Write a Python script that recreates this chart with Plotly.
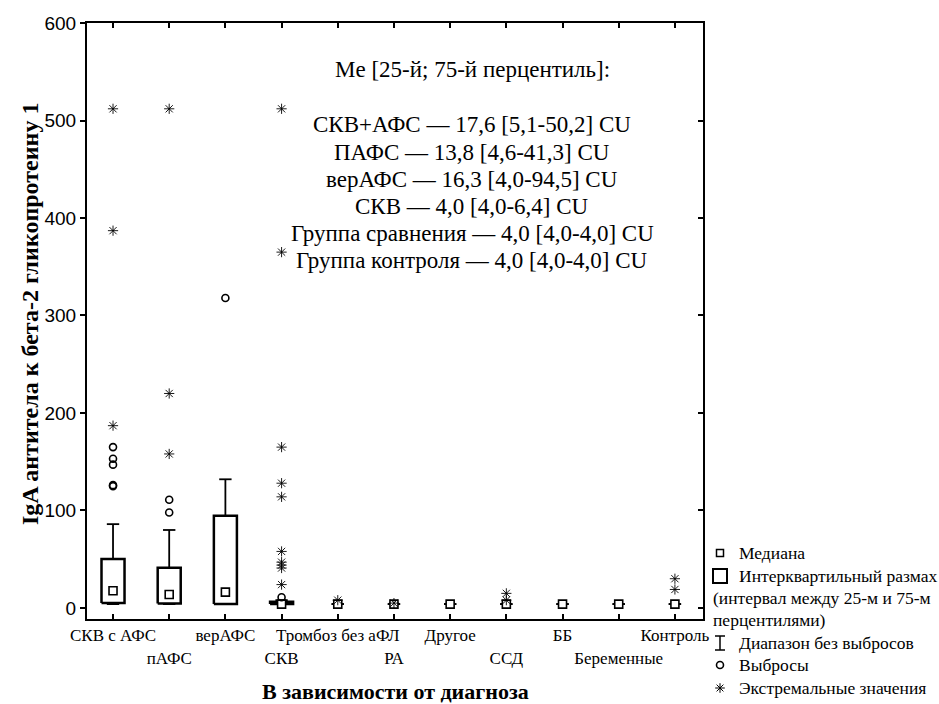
import plotly.graph_objects as go

# ---- data -------------------------------------------------------------
categories = ["СКВ с АФС", "пАФС", "верАФС", "СКВ", "Тромбоз без аФЛ", "РА",
              "Другое", "ССД", "ББ", "Беременные", "Контроль"]
medians = [17.6, 13.8, 16.3, 4.0, 4.0, 4.0, 4.0, 4.0, 4.0, 4.0, 4.0]
q1 = [5.1, 4.6, 4.0, 4.0, 4.0, 4.0, 4.0, 4.0, 4.0, 4.0, 4.0]
q3 = [50.2, 41.3, 94.5, 6.4, 4.0, 4.0, 4.0, 4.0, 4.0, 4.0, 4.0]
whisker_low = [4.0, 4.0, 4.0, 4.0, 4.0, 4.0, 4.0, 4.0, 4.0, 4.0, 4.0]
whisker_high = [86.0, 80.0, 132.0, 8.0, 4.0, 4.0, 4.0, 4.0, 4.0, 4.0, 4.0]
outliers = [[125, 126, 147, 153, 165], [98, 111], [318], [11],
            [], [], [], [], [], [], []]
extremes = [[187, 387, 512], [158, 220, 512], [],
            [24, 41, 44, 47, 58, 114, 128, 165, 365, 512],
            [8], [5], [], [8, 15], [], [], [19, 30]]

# summary lines: (label, category index); the comparison group is pooled
summary_groups = [("СКВ+АФС", 0), ("ПАФС", 1), ("верАФС", 2), ("СКВ", 3),
                  ("Группа сравнения", None), ("Группа контроля", 10)]
comparison_stats = [4.0, 4.0, 4.0]  # Me, Q1, Q3

y_ticks = [0, 100, 200, 300, 400, 500, 600]

# ---- geometry ---------------------------------------------------------
W, H = 939, 704
PX_L, PX_R, PX_T, PX_B = 87, 703, 23, 619
BOX_HALF = 0.205
CAP_HALF = 0.11

SERIF = "Liberation Serif, Times New Roman, serif"
SANS = "Liberation Sans, Arial, sans-serif"

fig = go.Figure()

# boxes (skipped where the interquartile range collapses)
bx, by = [], []
for i in range(len(categories)):
    if q3[i] > q1[i]:
        bx += [i - BOX_HALF, i + BOX_HALF, i + BOX_HALF, i - BOX_HALF, i - BOX_HALF, None]
        by += [q1[i], q1[i], q3[i], q3[i], q1[i], None]
fig.add_trace(go.Scatter(x=bx, y=by, mode="lines",
                         line=dict(color="black", width=2.5),
                         hoverinfo="skip", showlegend=False))

# whiskers with caps
wx, wy = [], []
for i in range(len(categories)):
    wx += [i, i, None, i - CAP_HALF, i + CAP_HALF, None,
           i, i, None, i - CAP_HALF, i + CAP_HALF, None]
    wy += [q3[i], whisker_high[i], None, whisker_high[i], whisker_high[i], None,
           q1[i], whisker_low[i], None, whisker_low[i], whisker_low[i], None]
fig.add_trace(go.Scatter(x=wx, y=wy, mode="lines",
                         line=dict(color="black", width=1.8),
                         hoverinfo="skip", showlegend=False))

# medians
fig.add_trace(go.Scatter(
    x=list(range(len(categories))), y=medians, mode="markers",
    marker=dict(symbol="square", size=8, color="white",
                line=dict(color="black", width=1.6)),
    showlegend=False))

# outliers
ox = [i for i, vals in enumerate(outliers) for _ in vals]
oy = [v for vals in outliers for v in vals]
fig.add_trace(go.Scatter(
    x=ox, y=oy, mode="markers",
    marker=dict(symbol="circle-open", size=7, color="black",
                line=dict(color="black", width=1.6)),
    showlegend=False))

# extreme values
ex = [i for i, vals in enumerate(extremes) for _ in vals]
ey = [v for vals in extremes for v in vals]
fig.add_trace(go.Scatter(
    x=ex, y=ey, mode="markers",
    marker=dict(symbol="asterisk-open", size=8.5, color="black",
                line=dict(color="black", width=0.9)),
    showlegend=False))

# right-hand axis carrying inward ticks
fig.add_trace(go.Scatter(x=[None], y=[None], yaxis="y2",
                         hoverinfo="skip", showlegend=False))

# ---- legend keys drawn on a full-figure pixel frame ----------------------
LX = 720
leg_rows = [553, 576, 598, 620, 643, 665, 688]
fig.add_trace(go.Scatter(x=[LX], y=[leg_rows[0]], xaxis="x3", yaxis="y3",
                         mode="markers",
                         marker=dict(symbol="square", size=7, color="white",
                                     line=dict(color="black", width=1.5)),
                         hoverinfo="skip", showlegend=False))
fig.add_trace(go.Scatter(x=[LX], y=[leg_rows[1]], xaxis="x3", yaxis="y3",
                         mode="markers",
                         marker=dict(symbol="square", size=14, color="white",
                                     line=dict(color="black", width=2)),
                         hoverinfo="skip", showlegend=False))
fig.add_trace(go.Scatter(x=[LX - 5, LX + 5, None, LX, LX, None, LX - 5, LX + 5],
                         y=[leg_rows[4] - 7, leg_rows[4] - 7, None,
                            leg_rows[4] - 7, leg_rows[4] + 7, None,
                            leg_rows[4] + 7, leg_rows[4] + 7],
                         xaxis="x3", yaxis="y3", mode="lines",
                         line=dict(color="black", width=1.5),
                         hoverinfo="skip", showlegend=False))
fig.add_trace(go.Scatter(x=[LX], y=[leg_rows[5]], xaxis="x3", yaxis="y3",
                         mode="markers",
                         marker=dict(symbol="circle-open", size=7, color="black",
                                     line=dict(color="black", width=1.6)),
                         hoverinfo="skip", showlegend=False))
fig.add_trace(go.Scatter(x=[LX], y=[leg_rows[6]], xaxis="x3", yaxis="y3",
                         mode="markers",
                         marker=dict(symbol="asterisk-open", size=8, color="black",
                                     line=dict(color="black", width=1.0)),
                         hoverinfo="skip", showlegend=False))

leg_texts = [(737, "Медиана"), (737, "Интерквартильный размах"),
             (711, "(интервал между 25-м и 75-м"), (711, "перцентилями)"),
             (737, "Диапазон без выбросов"), (737, "Выбросы"),
             (737, "Экстремальные значения")]
annotations = []
for (tx, txt), ty in zip(leg_texts, leg_rows):
    annotations.append(dict(x=tx / W, y=1 - ty / H, xref="paper", yref="paper",
                            text=txt, showarrow=False, xanchor="left",
                            yanchor="middle",
                            font=dict(family=SERIF, size=17.5, color="black")))


def fmt(v):
    return f"{v:.1f}".replace(".", ",")


summary_lines = []
for label, idx in summary_groups:
    if idx is None:
        me, a, b = comparison_stats
    else:
        me, a, b = medians[idx], q1[idx], q3[idx]
    summary_lines.append(f"{label} — {fmt(me)} [{fmt(a)}-{fmt(b)}] CU")

TX = 472
annotations.append(dict(x=TX / W, y=1 - 70 / H, xref="paper", yref="paper",
                        text="Me [25-й; 75-й перцентиль]:", showarrow=False,
                        xanchor="center", yanchor="middle",
                        font=dict(family=SERIF, size=23, color="black")))
for k, line in enumerate(summary_lines):
    annotations.append(dict(x=TX / W, y=1 - (125 + 27 * k) / H,
                            xref="paper", yref="paper", text=line,
                            showarrow=False, xanchor="center", yanchor="middle",
                            font=dict(family=SERIF, size=23, color="black")))

# axis titles
annotations.append(dict(x=30 / W, y=1 - 314 / H, xref="paper", yref="paper",
                        text="<b>IgA антитела к бета-2 гликопротеину 1</b>",
                        textangle=-90, showarrow=False,
                        xanchor="center", yanchor="middle",
                        font=dict(family=SERIF, size=24, color="black")))
annotations.append(dict(x=(PX_L + PX_R) / 2 / W, y=1 - 691 / H,
                        xref="paper", yref="paper",
                        text="<b>В зависимости от диагноза</b>", showarrow=False,
                        xanchor="center", yanchor="middle",
                        font=dict(family=SERIF, size=22, color="black")))

# staggered category labels
tick_text = [c if i % 2 == 0 else "<br>" + c for i, c in enumerate(categories)]

x_dom = [PX_L / W, PX_R / W]
y_dom = [1 - PX_B / H, 1 - PX_T / H]
x_range = [-0.463, 10.5]
y_range = [-11.3, 600]

fig.update_layout(
    width=W, height=H,
    margin=dict(l=0, r=0, t=0, b=0),
    paper_bgcolor="white", plot_bgcolor="rgba(0,0,0,0)",
    showlegend=False,
    xaxis=dict(domain=x_dom, range=x_range, tickmode="array",
               tickvals=list(range(len(categories))), ticktext=tick_text,
               tickangle=0, ticks="inside", ticklen=5, tickwidth=1.5,
               tickcolor="black", showline=True, linecolor="black",
               linewidth=2, mirror="ticks", showgrid=False, zeroline=False,
               tickfont=dict(family=SERIF, size=17, color="black"),
               automargin=False),
    yaxis=dict(domain=y_dom, range=y_range, tickmode="array",
               tickvals=y_ticks, ticks="outside", ticklen=5, tickwidth=1.5,
               tickcolor="black", showline=True, linecolor="black",
               linewidth=2, mirror=True, showgrid=False, zeroline=False,
               tickfont=dict(family=SANS, size=19, color="black"),
               automargin=False),
    yaxis2=dict(overlaying="y", side="right", anchor="x", range=y_range,
                tickmode="array", tickvals=y_ticks, ticks="inside",
                ticklen=5, tickwidth=1.5, tickcolor="black",
                showticklabels=False, showline=False, showgrid=False,
                zeroline=False),
    xaxis3=dict(domain=[0, 1], range=[0, W], anchor="y3", visible=False,
                fixedrange=True),
    yaxis3=dict(domain=[0, 1], range=[H, 0], anchor="x3", visible=False,
                fixedrange=True),
    annotations=annotations,
)

fig.write_html("out.html")
